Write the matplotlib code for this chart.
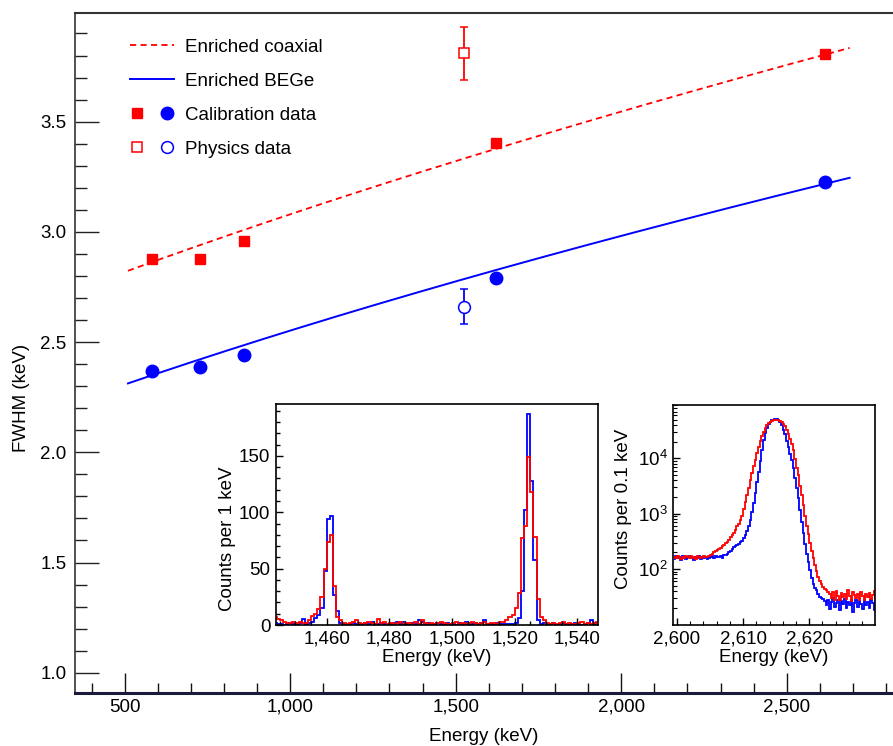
import numpy as np
import matplotlib
matplotlib.use("Agg")
import matplotlib.pyplot as plt
from matplotlib.ticker import MultipleLocator, FuncFormatter, LogLocator, NullFormatter, FixedLocator
from matplotlib.lines import Line2D
from matplotlib.legend_handler import HandlerTuple

plt.rcParams["font.family"] = ["Liberation Sans", "DejaVu Sans"]
plt.rcParams["mathtext.fontset"] = "custom"
plt.rcParams["mathtext.rm"] = "Liberation Sans"
plt.rcParams["mathtext.it"] = "Liberation Sans:italic"
plt.rcParams["mathtext.bf"] = "Liberation Sans:bold"

RED = "#ff0000"
BLUE = "#0000ff"

# ---- FWHM versus energy ----
calib_energy = [583.2, 727.3, 860.6, 1620.5, 2614.5]
coax_calib_fwhm = [2.877, 2.877, 2.957, 3.403, 3.807]
bege_calib_fwhm = [2.367, 2.387, 2.441, 2.791, 3.226]

phys_energy = [1524.6]
coax_phys_fwhm = [3.81]
coax_phys_err = [0.12]
bege_phys_fwhm = [2.66]
bege_phys_err = [0.08]

# resolution curves: FWHM(E) = sqrt(a + b*E)
coax_fit = (6.397, 0.003088)
bege_fit = (4.135, 0.002378)
fit_range = (510, 2690)

# ---- inset: 42K / 40K region, counts per 1 keV ----
k_edges_start = 1443
k_blue = [2, 1, 1, 0, 1, 2, 1, 0, 2, 5, 1, 2,
          3, 6, 9, 15,
          48, 94, 97, 27, 12, 2, 1,
          0, 1, 2, 1, 0, 1, 2, 1, 3, 0, 1, 2, 1, 0, 1, 2, 3, 1, 3, 1,
          0, 2, 1, 4, 3, 1, 2, 0, 1, 2, 1, 0, 2, 1, 1, 0, 2, 1, 3, 0,
          1, 2, 1, 2, 4, 1, 1, 0, 2, 1,
          1, 1, 1, 1, 2, 6, 30, 102, 187, 128, 58, 4, 1, 2,
          0, 1, 2, 0, 1, 2, 1, 0, 1, 2, 1, 0, 1, 2, 4, 1, 0]
k_red = [7, 5, 4, 3, 2, 2, 3, 2, 3, 2, 2,
         4, 8, 10, 14, 25, 50, 74, 80, 35, 7, 4, 2,
         1, 2, 3, 4, 2, 1, 2, 3, 2, 1, 5, 2, 3, 1, 2, 1, 2, 3, 1, 2,
         2, 1, 3, 1, 4, 2, 1, 2, 1, 2, 3, 2, 1, 1, 2, 3, 1, 2, 1, 2,
         3, 2, 1, 2, 3, 1, 2, 2, 1, 3,
         3, 4, 7, 9, 15, 28, 77, 88, 149, 118, 78, 23, 7, 4, 2,
         1, 2, 1, 2, 3, 1, 2, 1, 1, 2, 3, 1, 2, 1, 2, 3]

# ---- inset: 208Tl line, counts per 0.1 keV (0.25 keV steps) ----
tl_edges_start = 2599.5
tl_step = 0.25
tl_blue = [150, 172, 158, 165, 145, 170, 160, 152, 168, 175, 155, 162, 148, 166, 158, 170,
           150, 163, 157, 168, 152, 160,
           165, 170, 158, 172, 162, 168, 175, 160,
           178, 180, 185,
           200, 215, 232, 248, 262, 274, 288, 305, 325, 362, 410, 490,
           600, 780, 1050, 1550, 2350, 3800, 5600, 8900, 14000, 21500, 29000, 36000,
           41500, 45900, 48500, 49800, 50600, 50600, 49200, 45900, 40000, 32500, 27000, 20500,
           15800, 12200, 9200, 6800, 4350, 2850, 1890, 1160, 700, 440, 282, 190,
           133, 96, 68, 53, 46, 41, 35, 31, 30, 29,
           26, 22, 28, 19, 25, 30, 21, 24, 27, 18, 26, 23, 29, 20, 25, 22, 28, 17, 24, 27,
           21, 26, 23, 19, 28, 22, 25, 20, 27, 24, 18, 26, 23]
tl_red = [165, 155, 170, 160, 150, 168, 158, 172, 162, 155, 170, 160, 165, 150, 175, 162,
          158, 168, 170, 163,
          168, 172, 180, 190, 200, 210, 218, 228, 240, 255, 268, 290, 310, 340, 375, 410,
          455, 510, 590, 660, 770, 910, 1200, 1600, 2150, 2900, 4100, 5500,
          7200, 9400, 12300, 16000, 20300, 25500, 30300, 35400, 39500, 43200, 45500, 47300,
          48500, 49200, 49000, 48500, 47300, 46000, 42000, 37800, 32500, 27200, 22300, 18300,
          14200, 9800, 6800, 4900, 3200, 2200, 1450, 920, 610, 430, 300, 210,
          160, 120, 92, 72, 61, 53, 48, 44, 41, 38,
          36, 30, 38, 28, 40, 33, 27, 37, 31, 35, 29, 41, 32, 26, 38, 34, 30, 36, 28, 39,
          33, 27, 35, 31, 37, 29, 34, 40, 30, 33]

W, H = 893, 746
fig = plt.figure(figsize=(W / 100, H / 100), dpi=100)


def frac(x0, y0, x1, y1):
    return [x0 / W, 1 - y1 / H, (x1 - x0) / W, (y1 - y0) / H]


def step_edges(start, width, values):
    return start + width * np.arange(len(values) + 1)


ax = fig.add_axes(frac(75, 13, 893, 693))
ax.set_xlim(350, 2821)
ax.set_ylim(0.908, 3.993)

e = np.linspace(*fit_range, 300)
ax.plot(e, np.sqrt(coax_fit[0] + coax_fit[1] * e), color=RED, lw=1.3,
        dashes=(3.4, 2.4))
ax.plot(e, np.sqrt(bege_fit[0] + bege_fit[1] * e), color=BLUE, lw=1.4)

ax.plot(calib_energy, coax_calib_fwhm, "s", color=RED, ms=7.5, mec=RED)
ax.plot(calib_energy, bege_calib_fwhm, "o", color=BLUE, ms=9, mec=BLUE)
ax.errorbar(phys_energy, coax_phys_fwhm, yerr=coax_phys_err, fmt="s", color=RED,
            mfc="white", mec=RED, ms=7, mew=1.1, elinewidth=1.3, capsize=3, capthick=1.3)
ax.errorbar(phys_energy, bege_phys_fwhm, yerr=bege_phys_err, fmt="o", color=BLUE,
            mfc="white", mec=BLUE, ms=8.5, mew=1.1, elinewidth=1.3, capsize=3, capthick=1.3)

ax.xaxis.set_major_locator(MultipleLocator(500))
ax.xaxis.set_minor_locator(MultipleLocator(100))
ax.xaxis.set_major_formatter(FuncFormatter(lambda v, p: f"{v:,.0f}"))
ax.yaxis.set_major_locator(MultipleLocator(0.5))
ax.yaxis.set_minor_locator(MultipleLocator(0.1))
ax.yaxis.set_major_formatter(FuncFormatter(lambda v, p: f"{v:.1f}"))
ax.tick_params(axis="y", which="major", direction="in", length=17.5, width=1.0,
               color="#222222", labelsize=13.5, pad=6)
ax.tick_params(axis="y", which="minor", direction="in", length=8.5, width=1.0,
               color="#222222")
ax.tick_params(axis="x", which="major", direction="in", length=14.5, width=1.0,
               color="#111111", labelsize=13.5, pad=4)
ax.tick_params(axis="x", which="minor", direction="in", length=7.5, width=1.0,
               color="#111111")
ax.spines["right"].set_visible(False)
ax.spines["top"].set_linewidth(1.5)
ax.spines["top"].set_color("#333333")
ax.spines["left"].set_linewidth(1.2)
ax.spines["left"].set_color("#333333")
ax.spines["bottom"].set_linewidth(2.2)
ax.spines["bottom"].set_color("#1a1a3a")
ax.set_xlabel("Energy (keV)", fontsize=13.5, va="center")
ax.xaxis.set_label_coords(0.5, -0.064)
ax.set_ylabel("FWHM (keV)", fontsize=13.5, va="center")
ax.yaxis.set_label_coords(-0.066, 0.434)

h_coax = Line2D([], [], color=RED, lw=1.3, dashes=(3.4, 2.4))
h_bege = Line2D([], [], color=BLUE, lw=1.4)
h_sq = Line2D([], [], ls="", marker="s", color=RED, ms=7.5)
h_ci = Line2D([], [], ls="", marker="o", color=BLUE, ms=9)
h_osq = Line2D([], [], ls="", marker="s", mfc="white", mec=RED, ms=7, mew=1.1)
h_oci = Line2D([], [], ls="", marker="o", mfc="white", mec=BLUE, ms=8.5, mew=1.1)
ax.legend([h_coax, h_bege, (h_sq, h_ci), (h_osq, h_oci)],
          ["Enriched coaxial", "Enriched BEGe", "Calibration data", "Physics data"],
          handler_map={tuple: HandlerTuple(ndivide=None, pad=0.8)},
          loc="upper left", bbox_to_anchor=(0.058, 0.973), borderaxespad=0,
          frameon=False, fontsize=13.5, handlelength=2.35, handletextpad=0.6,
          labelspacing=0.9)

# ---- inset 1 ----
ax1 = fig.add_axes(frac(276, 404, 598, 625))
ax1.stairs(k_blue, step_edges(k_edges_start, 1, k_blue), color=BLUE, lw=1.3, baseline=None)
ax1.stairs(k_red, step_edges(k_edges_start, 1, k_red), color=RED, lw=1.3, baseline=None)
ax1.set_xlim(1443.8, 1546.6)
ax1.set_ylim(0, 196)
ax1.xaxis.set_major_locator(MultipleLocator(20))
ax1.xaxis.set_minor_locator(MultipleLocator(5))
ax1.xaxis.set_major_formatter(FuncFormatter(lambda v, p: f"{v:,.0f}"))
ax1.yaxis.set_major_locator(MultipleLocator(50))
ax1.yaxis.set_minor_locator(MultipleLocator(10))
ax1.tick_params(which="major", direction="in", length=5, width=1.0, labelsize=13.5, pad=4)
ax1.tick_params(which="minor", direction="in", length=3, width=1.0)
ax1.tick_params(axis="x", which="major", pad=4)
for s in ax1.spines.values():
    s.set_linewidth(1.2)
ax1.set_xlabel("Energy (keV)", fontsize=13.5, labelpad=1)
ax1.set_ylabel("Counts per 1 keV", fontsize=13.5, va="center")
ax1.yaxis.set_label_coords(-0.152, 0.39)

# ---- inset 2 ----
ax2 = fig.add_axes(frac(673, 405, 875, 625))
ax2.stairs(tl_blue, step_edges(tl_edges_start, tl_step, tl_blue), color=BLUE, lw=1.3,
           baseline=None)
ax2.stairs(tl_red, step_edges(tl_edges_start, tl_step, tl_red), color=RED, lw=1.3,
           baseline=None)
ax2.set_yscale("log")
ax2.set_xlim(2599.4, 2629.95)
ax2.set_ylim(9.73, 91800)
ax2.xaxis.set_major_locator(MultipleLocator(10))
ax2.xaxis.set_minor_locator(MultipleLocator(2))
ax2.xaxis.set_major_formatter(FuncFormatter(lambda v, p: f"{v:,.0f}"))
ax2.yaxis.set_major_locator(FixedLocator([1e2, 1e3, 1e4]))
ax2.yaxis.set_minor_locator(LogLocator(base=10, subs=np.arange(2, 10)))
ax2.yaxis.set_minor_formatter(NullFormatter())
ax2.tick_params(which="major", direction="in", length=5, width=1.0, labelsize=13.5, pad=4)
ax2.tick_params(which="minor", direction="in", length=3, width=0.8)
ax2.tick_params(axis="x", which="major", pad=4)
for s in ax2.spines.values():
    s.set_linewidth(1.2)
ax2.set_xlabel("Energy (keV)", fontsize=13.5, labelpad=1)
ax2.set_ylabel("Counts per 0.1 keV", fontsize=13.5, va="center")
ax2.yaxis.set_label_coords(-0.245, 0.527)

fig.savefig("out.png", dpi=100)
